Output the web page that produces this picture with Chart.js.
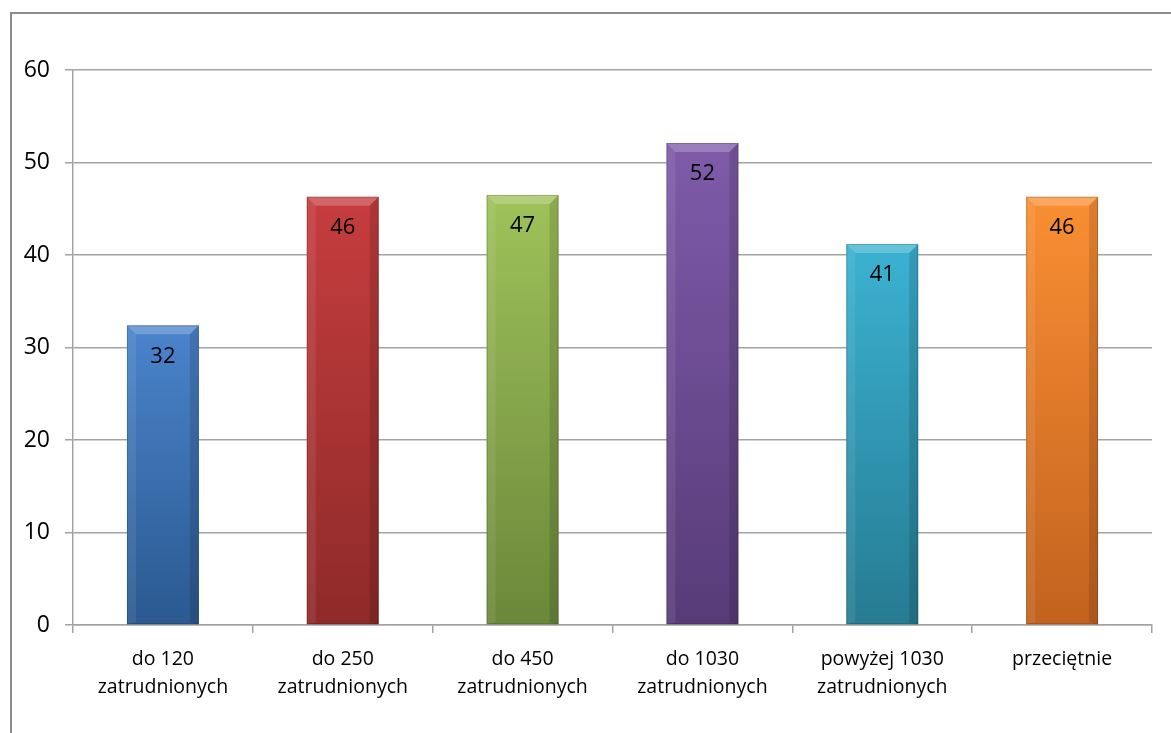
<!DOCTYPE html>
<html>
<head>
<meta charset="utf-8">
<script src="https://cdn.jsdelivr.net/npm/chart.js@4.4.0/dist/chart.umd.min.js"></script>
<style>
    html, body { margin: 0; padding: 0; background: #fff; overflow: hidden; }
    #frame {
        position: absolute; left: 10px; top: 12px;
        width: 1200px; height: 800px;
        border: 2px solid #8c8c8c;
        box-sizing: border-box;
    }
    #wrap { position: absolute; left: 0; top: 0; width: 1171px; height: 733px; }
</style>
</head>
<body>
<div id="frame"></div>
<div id="wrap"><canvas id="barChart" width="1171" height="733"></canvas></div>
<script>
// Chart data
const categories = [
    ['do 120', 'zatrudnionych'],
    ['do 250', 'zatrudnionych'],
    ['do 450', 'zatrudnionych'],
    ['do 1030', 'zatrudnionych'],
    ['powyżej 1030', 'zatrudnionych'],
    'przeciętnie'
];
const values = [32.4, 46.3, 46.5, 52.1, 41.2, 46.3];
const yTicks = [0, 10, 20, 30, 40, 50, 60];

// top / bottom colours of each bar
const topColors = ['#4a84cc', '#c63d3e', '#9fc25a', '#7f5ba9', '#3bb2d2', '#f98f33'];
const bottomColors = ['#2b5990', '#8e2a29', '#6b873a', '#573b78', '#267b92', '#c2621f'];

const FONT = '"Open Sans", "Liberation Sans", sans-serif';
const gridColor = '#a3a3a3';

function barGradient(context) {
    const chart = context.chart;
    const i = context.dataIndex;
    const yScale = chart.scales.y;
    if (!yScale || !chart.chartArea) return topColors[i];
    const top = yScale.getPixelForValue(values[i]);
    const bottom = yScale.getPixelForValue(0);
    const g = chart.ctx.createLinearGradient(0, top, 0, bottom);
    g.addColorStop(0, topColors[i]);
    g.addColorStop(1, bottomColors[i]);
    return g;
}

// bevel look on top and sides of the bars
const bevelPlugin = {
    id: 'bevel',
    afterDatasetsDraw(chart) {
        const ctx = chart.ctx;
        const meta = chart.getDatasetMeta(0);
        meta.data.forEach(bar => {
            const l = bar.x - bar.width / 2;
            const r = bar.x + bar.width / 2;
            const t = bar.y;
            const b = bar.base;
            const d = 9;
            ctx.save();
            // top highlight
            ctx.fillStyle = 'rgba(255,255,255,0.22)';
            ctx.beginPath();
            ctx.moveTo(l, t); ctx.lineTo(r, t); ctx.lineTo(r - d, t + d); ctx.lineTo(l + d, t + d);
            ctx.closePath(); ctx.fill();
            // left edge
            ctx.fillStyle = 'rgba(255,255,255,0.08)';
            ctx.beginPath();
            ctx.moveTo(l, t); ctx.lineTo(l + d, t + d); ctx.lineTo(l + d, b - 2); ctx.lineTo(l, b);
            ctx.closePath(); ctx.fill();
            // right edge
            ctx.fillStyle = 'rgba(0,0,0,0.12)';
            ctx.beginPath();
            ctx.moveTo(r, t); ctx.lineTo(r - d, t + d); ctx.lineTo(r - d, b - 2); ctx.lineTo(r, b);
            ctx.closePath(); ctx.fill();
            ctx.strokeStyle = 'rgba(0,0,0,0.18)';
            ctx.lineWidth = 1;
            ctx.strokeRect(l + 0.5, t + 0.5, bar.width - 1, b - t - 1);
            ctx.restore();
        });
    }
};

// value labels inside the top of each bar
const valueLabels = {
    id: 'valueLabels',
    afterDatasetsDraw(chart) {
        const ctx = chart.ctx;
        const meta = chart.getDatasetMeta(0);
        ctx.save();
        ctx.font = '22px ' + FONT;
        ctx.fillStyle = '#000';
        ctx.textAlign = 'center';
        ctx.textBaseline = 'middle';
        meta.data.forEach((bar, i) => {
            ctx.fillText(String(Math.round(values[i])), bar.x, bar.y + 31);
        });
        ctx.restore();
    }
};

new Chart(document.getElementById('barChart'), {
    type: 'bar',
    data: {
        labels: categories,
        datasets: [{
            data: values,
            backgroundColor: barGradient,
            borderWidth: 0,
            categoryPercentage: 1.0,
            barPercentage: 0.4
        }]
    },
    options: {
        responsive: false,
        animation: false,
        layout: { padding: { top: 70, right: 19, left: 0, bottom: 0 } },
        plugins: {
            legend: { display: false },
            tooltip: { enabled: false }
        },
        scales: {
            y: {
                min: 0,
                max: 60,
                afterBuildTicks: scale => { scale.ticks = yTicks.map(v => ({ value: v })); },
                afterFit: scale => { scale.width = 73; },
                border: { color: gridColor, width: 1.5 },
                grid: { color: gridColor, lineWidth: 1.5, tickLength: 8 },
                ticks: {
                    color: '#000',
                    padding: 15,
                    font: { family: FONT, size: 23 }
                }
            },
            x: {
                afterFit: scale => { scale.height = 733 - 70 - 555; },
                border: { color: gridColor, width: 1.5 },
                grid: { color: gridColor, lineWidth: 1.5, drawOnChartArea: false, tickLength: 8, offset: true },
                ticks: {
                    color: '#000',
                    padding: 13,
                    maxRotation: 0,
                    autoSkip: false,
                    font: { family: FONT, size: 19.5, lineHeight: 1.42 }
                }
            }
        }
    },
    plugins: [bevelPlugin, valueLabels]
});
</script>
</body>
</html>
